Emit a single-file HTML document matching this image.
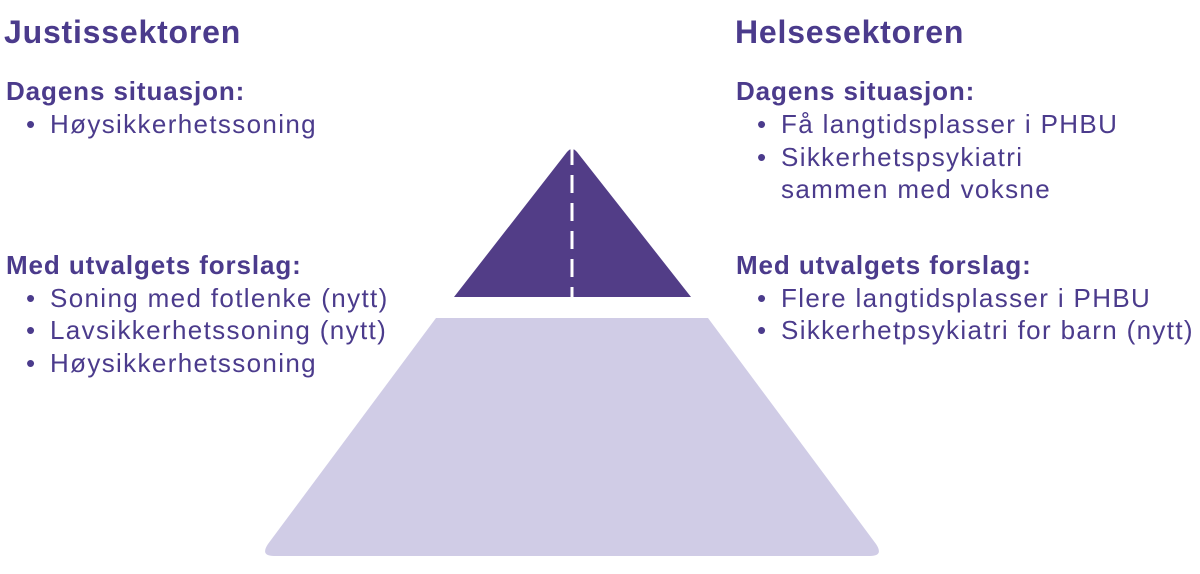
<!DOCTYPE html>
<html><head><meta charset="utf-8"><style>
html,body{margin:0;padding:0;background:#fff;}
body{width:1200px;height:574px;position:relative;overflow:hidden;font-family:"Liberation Sans",sans-serif;color:#4b3b8c;}
.t{position:absolute;white-space:nowrap;line-height:1;}
.h1{font-size:32px;font-weight:bold;letter-spacing:0.8px;}
.h2{font-size:26px;font-weight:bold;letter-spacing:0.9px;}
.li{font-size:26px;letter-spacing:1.35px;}
.b{font-size:26px;}
</style></head><body>
<svg width="1200" height="574" style="position:absolute;left:0;top:0">
  <path d="M454,297 L567,152 Q572,146 577,152 L691,297 Z" fill="#523d87"/>
  <line x1="572" y1="147" x2="572" y2="297" stroke="#fff" stroke-width="3" stroke-dasharray="18 10"/>
  <path d="M436,318 L708,318 L876,544 Q884,556 870,556 L274,556 Q260,556 268,544 Z" fill="#d0cce6"/>
</svg>
<div class="t h1" style="left:4px;top:16px">Justissektoren</div>
<div class="t h2" style="left:6px;top:78px">Dagens situasjon:</div>
<div class="t b" style="left:26px;top:111px">•</div><div class="t li" style="left:50px;top:111px">Høysikkerhetssoning</div>
<div class="t h2" style="left:6px;top:252px">Med utvalgets forslag:</div>
<div class="t b" style="left:26px;top:285px">•</div><div class="t li" style="left:50px;top:285px">Soning med fotlenke (nytt)</div>
<div class="t b" style="left:26px;top:317px">•</div><div class="t li" style="left:50px;top:317px">Lavsikkerhetssoning (nytt)</div>
<div class="t b" style="left:26px;top:350px">•</div><div class="t li" style="left:50px;top:350px">Høysikkerhetssoning</div>

<div class="t h1" style="left:735px;top:16px">Helsesektoren</div>
<div class="t h2" style="left:736px;top:78px">Dagens situasjon:</div>
<div class="t b" style="left:757px;top:111px">•</div><div class="t li" style="left:781px;top:111px">Få langtidsplasser i PHBU</div>
<div class="t b" style="left:757px;top:144px">•</div><div class="t li" style="left:781px;top:144px">Sikkerhetspsykiatri</div>
<div class="t li" style="left:781px;top:176px">sammen med voksne</div>
<div class="t h2" style="left:736px;top:252px">Med utvalgets forslag:</div>
<div class="t b" style="left:757px;top:285px">•</div><div class="t li" style="left:781px;top:285px">Flere langtidsplasser i PHBU</div>
<div class="t b" style="left:757px;top:317px">•</div><div class="t li" style="left:781px;top:317px">Sikkerhetpsykiatri for barn (nytt)</div>
</body></html>
